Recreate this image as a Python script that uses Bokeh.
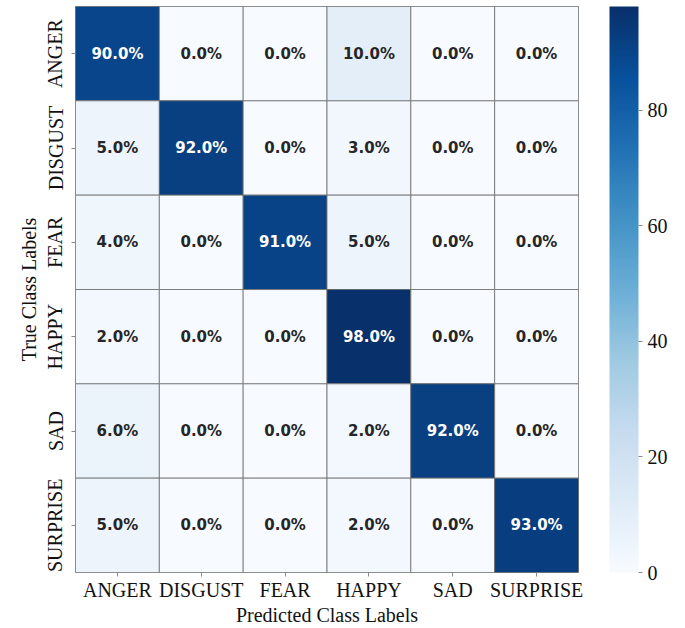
from bokeh.plotting import figure
from bokeh.models import ColumnDataSource, LinearColorMapper, ColorBar, FixedTicker, FactorRange, Range1d
from bokeh.layouts import row
from bokeh.transform import transform
from bokeh.palettes import Blues256
from bokeh.core.properties import value
from bokeh.embed import file_html
from bokeh.resources import INLINE

classes = ["ANGER", "DISGUST", "FEAR", "HAPPY", "SAD", "SURPRISE"]
# rows = true class, columns = predicted class (percent)
row_anger = [90.0, 0.0, 0.0, 10.0, 0.0, 0.0]
row_disgust = [5.0, 92.0, 0.0, 3.0, 0.0, 0.0]
row_fear = [4.0, 0.0, 91.0, 5.0, 0.0, 0.0]
row_happy = [2.0, 0.0, 0.0, 98.0, 0.0, 0.0]
row_sad = [6.0, 0.0, 0.0, 2.0, 92.0, 0.0]
row_surprise = [5.0, 0.0, 0.0, 2.0, 0.0, 93.0]
colorbar_ticks = [0, 20, 40, 60, 80]

rows = [row_anger, row_disgust, row_fear, row_happy, row_sad, row_surprise]
vmin = 0.0
vmax = max(max(r) for r in rows)

xs, ys, vals, labels, tcolors = [], [], [], [], []
for t, r in zip(classes, rows):
    for pcls, v in zip(classes, r):
        xs.append(pcls)
        ys.append(t)
        vals.append(v)
        labels.append(f"{v:.1f}%")
        tcolors.append("white" if v > 55 else "#262626")

src = ColumnDataSource(dict(x=xs, y=ys, v=vals, label=labels, tc=tcolors))

palette = list(Blues256)[::-1]
mapper = LinearColorMapper(palette=palette, low=vmin, high=vmax)

TOP, BOTTOM = 6, 56
H = 628

p = figure(width=590, height=H,
           x_range=FactorRange(*classes),
           y_range=FactorRange(*classes[::-1]),
           output_backend="svg", toolbar_location=None,
           min_border_left=75, min_border_top=TOP, min_border_bottom=BOTTOM, min_border_right=12)

p.rect(x="x", y="y", width=1, height=1, source=src,
       fill_color=transform("v", mapper), line_color="#6b6b6b", line_width=0.8)
p.text(x="x", y="y", text="label", source=src, text_color="tc",
       text_font=value("DejaVu Sans"), text_font_style="bold", text_font_size="15px",
       text_align="center", text_baseline="middle")

p.outline_line_color = "#6b6b6b"
p.outline_line_width = 0.8
p.grid.visible = False
p.background_fill_color = "white"
p.border_fill_color = "white"

for ax in (p.xaxis[0], p.yaxis[0]):
    ax.axis_line_color = None
    ax.major_tick_in = 0
    ax.major_tick_out = 4
    ax.major_tick_line_color = "#888888"
    ax.major_label_text_font = "Liberation Serif"
    ax.major_label_text_font_size = "20px"
    ax.major_label_text_color = "#111111"
    ax.axis_label_text_font = "Liberation Serif"
    ax.axis_label_text_font_size = "20px"
    ax.axis_label_text_font_style = "normal"
    ax.axis_label_text_color = "#111111"

p.xaxis.major_label_standoff = 2
p.xaxis.axis_label_standoff = 0
p.yaxis.major_label_standoff = 5
p.yaxis.axis_label_standoff = 2

p.xaxis.axis_label = "Predicted Class Labels"
p.yaxis.axis_label = "True Class Labels"
p.yaxis.major_label_orientation = "vertical"

# colour bar in its own narrow figure
p2 = figure(width=95, height=H, x_range=Range1d(0, 1), y_range=Range1d(0, 1),
            x_axis_type=None, y_axis_type=None,
            output_backend="svg", toolbar_location=None,
            min_border_left=0, min_border_right=0, min_border_top=TOP, min_border_bottom=BOTTOM)
p2.outline_line_color = None
p2.grid.visible = False
p2.border_fill_color = "white"
p2.background_fill_color = "white"

cb = ColorBar(color_mapper=mapper, ticker=FixedTicker(ticks=colorbar_ticks),
              width=29, height=H - TOP - BOTTOM, padding=0, margin=0, location=(19, 0),
              major_label_text_font="Liberation Serif", major_label_text_font_size="20px",
              major_label_text_color="#111111",
              major_tick_in=0, major_tick_out=4, major_tick_line_color="#888888",
              bar_line_color=None, border_line_color=None, background_fill_alpha=0,
              label_standoff=5)
p2.add_layout(cb, "center")

layout = row(p, p2)
open("out.html", "w").write(file_html(layout, INLINE))
